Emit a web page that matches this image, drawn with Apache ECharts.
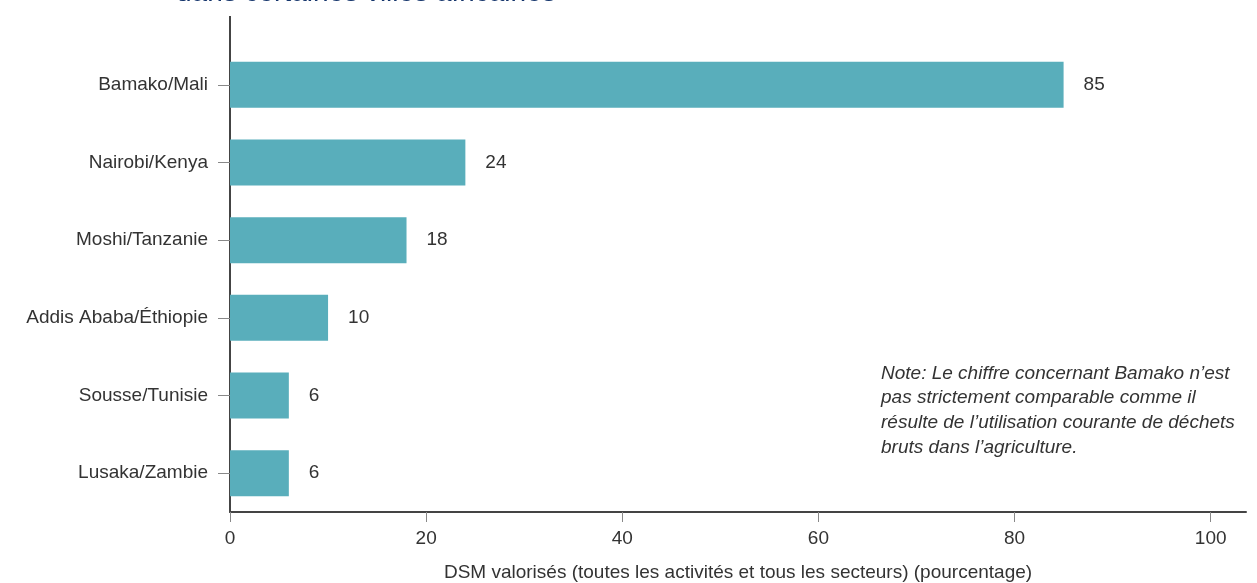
<!DOCTYPE html>
<html>
<head>
<meta charset="utf-8">
<script src="https://cdn.jsdelivr.net/npm/echarts@6/dist/echarts.min.js"></script>
<style>html,body{margin:0;padding:0;background:#fff}#c{width:1257px;height:583px}</style>
</head>
<body>
<div id="c"></div>
<script>
// Data (top to bottom in the chart)
const categories = ["Bamako/Mali", "Nairobi/Kenya", "Moshi/Tanzanie", "Addis Ababa/Éthiopie", "Sousse/Tunisie", "Lusaka/Zambie"];
const values = [85, 24, 18, 10, 6, 6];
const xTickValues = [0, 20, 40, 60, 80, 100];
const xAxisName = "DSM valorisés (toutes les activités et tous les secteurs) (pourcentage)";
const titleText = "dans certaines villes africaines";
const noteText = "Note: Le chiffre concernant Bamako n’est\npas strictement comparable comme il\nrésulte de l’utilisation courante de déchets\nbruts dans l’agriculture.";

const FONT = '"Liberation Sans", Arial, Helvetica, sans-serif';
const chart = echarts.init(document.getElementById('c'), null, {renderer: 'canvas'});
chart.setOption({
  animation: false,
  textStyle: {fontFamily: FONT},
  grid: {left: 230, right: 11, top: 46, bottom: 71, containLabel: false, outerBoundsMode: 'none'},
  xAxis: {
    type: 'value', min: 0, max: 103.6,
    interval: 20,
    name: xAxisName, nameLocation: 'middle', nameGap: 51, nameMoveOverlap: false,
    nameTextStyle: {fontSize: 19, color: '#333', fontFamily: FONT},
    axisLine: {show: true, lineStyle: {color: '#444', width: 2}},
    axisTick: {show: true, length: 10, lineStyle: {color: '#888', width: 1}, customValues: xTickValues},
    axisLabel: {fontSize: 19, color: '#333', margin: 17, fontFamily: FONT, customValues: xTickValues},
    splitLine: {show: false}
  },
  yAxis: {
    type: 'category', inverse: true, data: categories,
    axisLine: {show: true, lineStyle: {color: '#444', width: 2}},
    axisTick: {show: true, alignWithLabel: true, length: 12, lineStyle: {color: '#888', width: 1}},
    axisLabel: {fontSize: 19, color: '#333', margin: 22, fontFamily: FONT}
  },
  series: [{
    type: 'bar', data: values, barWidth: 46,
    itemStyle: {color: '#59aebb'},
    label: {show: true, position: 'right', distance: 20, fontSize: 19, color: '#333', fontFamily: FONT}
  }],
  graphic: [
    {type: 'line', shape: {x1: 230, y1: 16, x2: 230, y2: 47}, style: {stroke: '#444', lineWidth: 2}},
    {type: 'text', x: 176, y: -21, z: 100, style: {text: titleText, fontSize: 28, fill: '#15356c', fontFamily: FONT, verticalAlign: 'top'}},
    {type: 'text', left: 881, top: 361, style: {text: noteText, fontSize: 19, lineHeight: 24.7, fontStyle: 'italic', fill: '#333', fontFamily: FONT}}
  ]
});
</script>
</body>
</html>
